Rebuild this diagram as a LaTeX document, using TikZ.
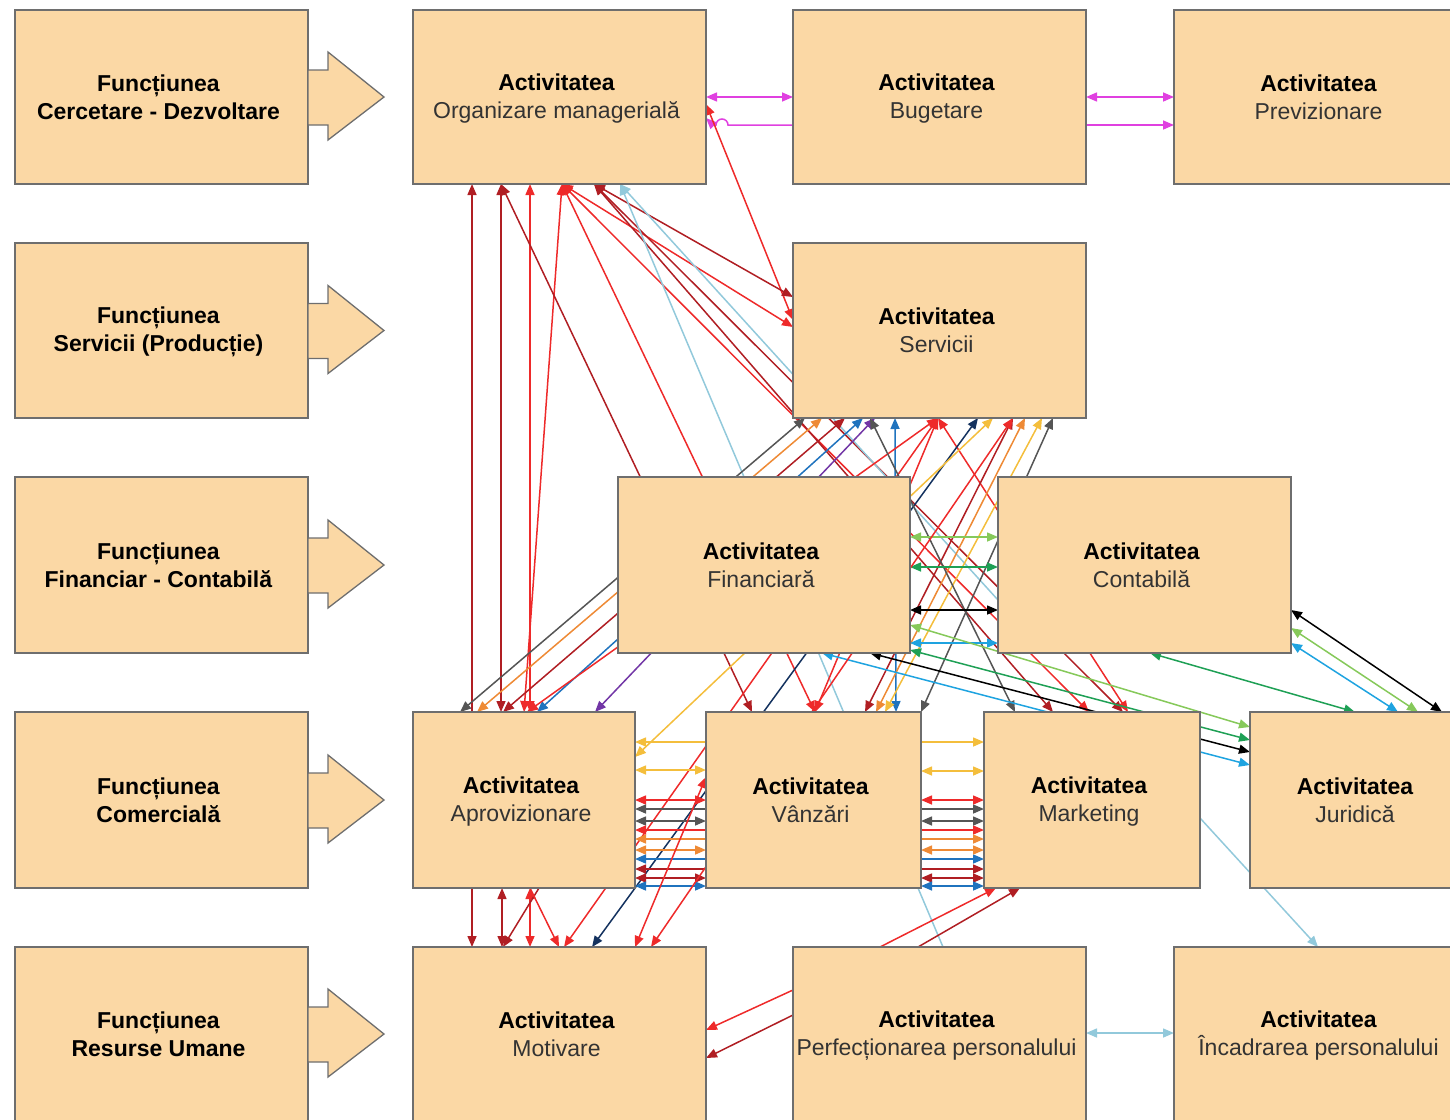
\documentclass[tikz,border=0pt]{standalone}
\usepackage{fontspec}
\setmainfont{Liberation Sans}
\usetikzlibrary{calc,arrows.meta}
\definecolor{boxfill}{HTML}{FBD8A5}
\definecolor{boxline}{HTML}{6E6E6E}
\definecolor{txt2}{HTML}{333333}
\definecolor{cmag}{HTML}{E040E0}
\definecolor{cdr}{HTML}{B01E23}
\definecolor{cred}{HTML}{EE2A2A}
\definecolor{clb}{HTML}{92C9DB}
\definecolor{cgray}{HTML}{555555}
\definecolor{corange}{HTML}{EE8A35}
\definecolor{cyellow}{HTML}{F4BE3C}
\definecolor{cblue}{HTML}{1F73BE}
\definecolor{cnavy}{HTML}{14325F}
\definecolor{cpurple}{HTML}{7236A6}
\definecolor{cgreen}{HTML}{1EA055}
\definecolor{clgreen}{HTML}{86C95A}
\definecolor{csky}{HTML}{1EA3E0}
% box corners (image pixels)
\def\Xfa{15}\def\Yfa{10}\def\Xfb{15}\def\Yfb{243}\def\Xfc{15}\def\Yfc{477}
\def\Xfd{15}\def\Yfd{712}\def\Xfe{15}\def\Yfe{947}
\def\Xorg{413}\def\Yorg{10}\def\Xbug{793}\def\Ybug{10}\def\Xprev{1174}\def\Yprev{10}
\def\Xser{793}\def\Yser{243}\def\Xfin{618}\def\Yfin{477}\def\Xcon{998}\def\Ycon{477}
\def\Xapr{413}\def\Yapr{712}\def\Xvan{706}\def\Yvan{712}\def\Xmkt{984}\def\Ymkt{712}
\def\Xjur{1250}\def\Yjur{712}\def\Xmot{413}\def\Ymot{947}\def\Xperf{793}\def\Yperf{947}
\def\Xinc{1174}\def\Yinc{947}
\newcommand\lk[7]{\draw[cn,#1] ($(#2.north west)+({#3-\csname X#2\endcsname},{#4-\csname Y#2\endcsname})$) -- ($(#5.north west)+({#6-\csname X#5\endcsname},{#7-\csname Y#5\endcsname})$);}
\newcommand\barrow[1]{\draw[barr] ($(#1.east)+(0,-27)$) -- ++(20,0) -- ++(0,-18) -- ++(56,45) -- ++(-56,43) -- ++(0,-15) -- ++(-20,0) -- cycle;}
\tikzset{
  box/.style={draw=boxline, fill=boxfill, line width=1.3pt, inner sep=0pt, outer sep=0pt,
    anchor=north west, align=center, font=\fontsize{23}{28}\selectfont},
  ghost/.style={box, draw=none, fill=none},
  barr/.style={draw=boxline, fill=boxfill, line width=1.3pt, line join=miter},
  cn/.style={line width=1.5pt, >={Triangle[length=11pt,width=9pt]}},
}
\newcommand\st{\rule[-4pt]{0pt}{24pt}}
\newcommand\fn[2]{\hspace*{-6pt}\st\textbf{#1}\\\hspace*{-6pt}\st\textbf{#2}}
\newcommand\ac[1]{\hspace*{-6pt}\st\textbf{Activitatea}\\\hspace*{-6pt}\st\textcolor{txt2}{#1}}
\begin{document}
\begin{tikzpicture}[x=1pt,y=-1pt]
\useasboundingbox (0,0) rectangle (1450,1119);
\clip (0,0) rectangle (1450,1119);
% ---------- node frames (named; drawn at the end) ----------
\path
 node[ghost,minimum width=293,minimum height=174] (fa) at (15,10) {}
 node[ghost,minimum width=293,minimum height=175] (fb) at (15,243) {}
 node[ghost,minimum width=293,minimum height=176] (fc) at (15,477) {}
 node[ghost,minimum width=293,minimum height=176] (fd) at (15,712) {}
 node[ghost,minimum width=293,minimum height=174] (fe) at (15,947) {}
 node[ghost,minimum width=293,minimum height=174] (org) at (413,10) {}
 node[ghost,minimum width=293,minimum height=174] (bug) at (793,10) {}
 node[ghost,minimum width=295,minimum height=174] (prev) at (1174,10) {}
 node[ghost,minimum width=293,minimum height=175] (ser) at (793,243) {}
 node[ghost,minimum width=292,minimum height=176] (fin) at (618,477) {}
 node[ghost,minimum width=293,minimum height=176] (con) at (998,477) {}
 node[ghost,minimum width=222,minimum height=176] (apr) at (413,712) {}
 node[ghost,minimum width=215,minimum height=176] (van) at (706,712) {}
 node[ghost,minimum width=216,minimum height=176] (mkt) at (984,712) {}
 node[ghost,minimum width=216,minimum height=176] (jur) at (1250,712) {}
 node[ghost,minimum width=293,minimum height=174] (mot) at (413,947) {}
 node[ghost,minimum width=293,minimum height=174] (perf) at (793,947) {}
 node[ghost,minimum width=295,minimum height=174] (inc) at (1174,947) {};
% ---------- connectors ----------
% top row
\lk{cmag,<->}{org}{706}{97}{bug}{793}{97}
\draw[cn,cmag,->] ($(bug.north west)+(0,115)$) -- ++(-65,0) arc[start angle=0,end angle=-180,radius=6] -- ++(-3,0) -- ($(org.north east)+(0,108)$);
\lk{cmag,<->}{bug}{1086}{97}{prev}{1174}{97}
\lk{cmag,->}{bug}{1086}{125}{prev}{1174}{125}
\lk{cred,<->}{org}{706}{104}{ser}{793}{320}
% from Organizare
\lk{cdr,->}{apr}{472}{712}{org}{472}{184}
\lk{cdr,<->}{org}{501}{184}{apr}{501}{712}
\lk{cred,<->}{org}{530}{184}{apr}{530}{712}
\lk{cred,<->}{org}{562}{184}{apr}{524}{712}
\lk{cdr,<->}{org}{501}{184}{van}{752}{712}
\lk{cred,<->}{org}{562}{184}{van}{815}{712}
\lk{cred,<->}{org}{562}{184}{ser}{793}{327}
\lk{cdr,<->}{org}{594}{184}{ser}{793}{297}
\lk{cred,<->}{org}{562}{184}{mkt}{1089}{712}
\lk{cdr,<->}{org}{594}{184}{mkt}{1053}{712}
\lk{cdr,<->}{org}{594}{184}{mkt}{1123}{712}
\lk{clb,->}{perf}{943}{947}{org}{620}{184}
\lk{clb,->}{con}{998}{600}{org}{620}{184}
% from Servicii
\lk{cgray,<->}{apr}{460}{712}{ser}{805}{418}
\lk{corange,<->}{apr}{477}{712}{ser}{822}{418}
\lk{cdr,<->}{apr}{503}{712}{ser}{845}{418}
\lk{cblue,<->}{apr}{537}{712}{ser}{863}{418}
\lk{cpurple,<->}{apr}{595}{712}{ser}{875}{418}
\lk{cblue,<->}{ser}{895}{418}{van}{896}{712}
\lk{cred,<->}{apr}{527}{712}{ser}{938}{418}
\lk{cred,<->}{mot}{564}{947}{ser}{938}{418}
\lk{cred,<->}{van}{815}{712}{ser}{938}{418}
\lk{cred,<->}{mkt}{1128}{712}{ser}{938}{418}
\lk{cnavy,<->}{mot}{592}{947}{ser}{978}{418}
\lk{cyellow,<->}{apr}{635}{757}{ser}{993}{418}
\lk{cdr,<->}{van}{865}{712}{ser}{1013}{418}
\lk{corange,<->}{van}{876}{712}{ser}{1025}{418}
\lk{cyellow,<->}{van}{885}{712}{ser}{1042}{418}
\lk{cgray,<->}{van}{921}{712}{ser}{1053}{418}
\lk{cgray,<->}{mkt}{1015}{712}{ser}{870}{418}
% Financiara - Contabila
\lk{clgreen,<->}{fin}{910}{537}{con}{998}{537}
\lk{cgreen,<->}{fin}{910}{567}{con}{998}{567}
\lk{black,<->}{fin}{910}{610}{con}{998}{610}
\lk{csky,<->}{fin}{910}{643}{con}{998}{643}
% to Juridica
\lk{clgreen,<->}{fin}{910}{625}{jur}{1250}{727}
\lk{cgreen,<->}{fin}{910}{650}{jur}{1250}{740}
\lk{black,<->}{fin}{870}{653}{jur}{1250}{752}
\lk{csky,<->}{fin}{822}{653}{jur}{1250}{765}
\lk{cgreen,<->}{con}{1150}{653}{jur}{1355}{712}
\lk{black,<->}{con}{1291}{610}{jur}{1442}{712}
\lk{clgreen,<->}{con}{1291}{628}{jur}{1418}{712}
\lk{csky,<->}{con}{1291}{643}{jur}{1398}{712}
% Aprovizionare - Vanzari - Marketing
\lk{cyellow,<->}{apr}{635}{742}{mkt}{984}{742}
\lk{cyellow,<->}{apr}{635}{770}{van}{706}{770}
\lk{cred,<->}{apr}{635}{800}{van}{706}{800}
\lk{cgray,<->}{apr}{635}{809}{mkt}{984}{809}
\lk{cgray,<->}{apr}{635}{821}{van}{706}{821}
\lk{cred,<->}{apr}{635}{830}{mkt}{984}{830}
\lk{corange,<->}{apr}{635}{839}{mkt}{984}{839}
\lk{corange,<->}{apr}{635}{850}{van}{706}{850}
\lk{cblue,<->}{apr}{635}{859}{mkt}{984}{859}
\lk{cdr,<->}{apr}{635}{869}{mkt}{984}{869}
\lk{cdr,<->}{apr}{635}{878}{van}{706}{878}
\lk{cblue,<->}{apr}{635}{886}{van}{706}{886}
\lk{cyellow,<->}{van}{921}{771}{mkt}{984}{771}
\lk{cred,<->}{van}{921}{800}{mkt}{984}{800}
\lk{cgray,<->}{van}{921}{821}{mkt}{984}{821}
\lk{corange,<->}{van}{921}{850}{mkt}{984}{850}
\lk{cdr,<->}{van}{921}{878}{mkt}{984}{878}
\lk{cblue,<->}{van}{921}{886}{mkt}{984}{886}
% Aprovizionare - Motivare
\lk{cdr,->}{apr}{472}{888}{mot}{472}{947}
\lk{cdr,<->}{apr}{502}{888}{mot}{502}{947}
\lk{cred,<->}{apr}{530}{888}{mot}{530}{947}
\lk{cdr,->}{apr}{539}{888}{mot}{503}{947}
\lk{cred,->}{apr}{530}{888}{mot}{559}{947}
\lk{cred,<->}{mot}{635}{947}{van}{706}{777}
\lk{cred,<->}{mot}{651}{947}{ser}{1013}{418}
% Perfectionare
\lk{cred,->}{perf}{793}{990}{mot}{706}{1030}
\lk{cdr,->}{perf}{793}{1015}{mot}{706}{1058}
\lk{cred,->}{perf}{880}{947}{mkt}{996}{888}
\lk{cdr,->}{perf}{918}{947}{mkt}{1020}{888}
\lk{clb,<->}{perf}{1086}{1033}{inc}{1174}{1033}
\lk{clb,->}{mkt}{1200}{818}{inc}{1318}{947}
% ---------- boxes drawn on top ----------
\node[box,minimum width=293,minimum height=174] at (15,10) {\fn{Funcțiunea}{Cercetare - Dezvoltare}};
\node[box,minimum width=293,minimum height=175] at (15,243) {\fn{Funcțiunea}{Servicii (Producție)}};
\node[box,minimum width=293,minimum height=176] at (15,477) {\fn{Funcțiunea}{Financiar - Contabilă}};
\node[box,minimum width=293,minimum height=176] at (15,712) {\fn{Funcțiunea}{Comercială}};
\node[box,minimum width=293,minimum height=174] at (15,947) {\fn{Funcțiunea}{Resurse Umane}};
\node[box,minimum width=293,minimum height=174] at (413,10) {\ac{Organizare managerială}};
\node[box,minimum width=293,minimum height=174] at (793,10) {\ac{Bugetare}};
\node[box,minimum width=295,minimum height=174] at (1174,10) {\ac{Previzionare}};
\node[box,minimum width=293,minimum height=175] at (793,243) {\ac{Servicii}};
\node[box,minimum width=292,minimum height=176] at (618,477) {\ac{Financiară}};
\node[box,minimum width=293,minimum height=176] at (998,477) {\ac{Contabilă}};
\node[box,minimum width=222,minimum height=176] at (413,712) {\ac{Aprovizionare}};
\node[box,minimum width=215,minimum height=176] at (706,712) {\ac{Vânzări}};
\node[box,minimum width=216,minimum height=176] at (984,712) {\ac{Marketing}};
\node[box,minimum width=216,minimum height=176] at (1250,712) {\ac{Juridică}};
\node[box,minimum width=293,minimum height=174] at (413,947) {\ac{Motivare}};
\node[box,minimum width=293,minimum height=174] at (793,947) {\ac{Perfecționarea personalului}};
\node[box,minimum width=295,minimum height=174] at (1174,947) {\ac{Încadrarea personalului}};
% block arrows
\barrow{fa}\barrow{fb}\barrow{fc}\barrow{fd}\barrow{fe}
\end{tikzpicture}
\end{document}
